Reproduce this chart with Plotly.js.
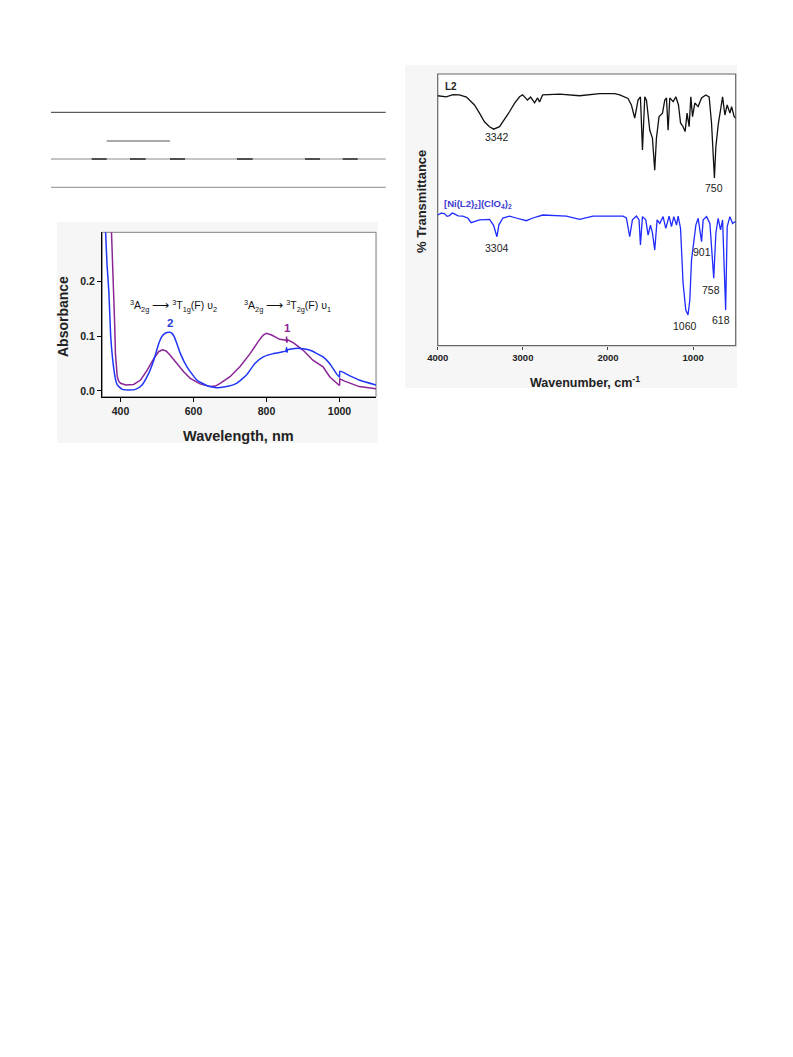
<!DOCTYPE html>
<html>
<head>
<meta charset="utf-8">
<script src="https://cdn.plot.ly/plotly-3.0.1.min.js"></script>
<style>
html,body{margin:0;padding:0;background:#fff;}
#chart{width:793px;height:1057px;}
</style>
</head>
<body>
<div id="chart"></div>
<script>
// ---------- UV-Vis data (wavelength, nm / absorbance) ----------
const uvWavelength1 = [372, 375.5, 378, 381.6, 384, 386, 389, 391, 395, 400, 414, 436, 455, 473, 491, 505, 515, 525, 536, 555, 573, 591, 618, 645, 660, 673, 700, 727, 755, 777, 791, 800, 814, 836, 850, 854, 855, 856, 858, 873, 900, 927, 955, 973, 991, 998, 1000, 1001, 1014, 1054, 1100];
const uvAbs1 = [0.35, 0.29, 0.23, 0.18, 0.12, 0.068, 0.04, 0.026, 0.018, 0.014, 0.011, 0.012, 0.020, 0.038, 0.059, 0.072, 0.075, 0.073, 0.065, 0.050, 0.035, 0.023, 0.013, 0.008, 0.009, 0.014, 0.026, 0.044, 0.068, 0.090, 0.102, 0.105, 0.102, 0.094, 0.093, 0.091, 0.099, 0.088, 0.093, 0.088, 0.0745, 0.056, 0.044, 0.026, 0.014, 0.011, 0.010, 0.022, 0.018, 0.008, 0.004];
const uvWavelength2 = [355, 359, 363, 368, 373, 378, 382, 386, 391, 405, 423, 441, 459, 477, 491, 505, 513, 520, 527, 535, 541, 547, 555, 564, 582, 609, 636, 664, 691, 718, 745, 768, 791, 818, 845, 853, 855, 856, 858, 864, 891, 918, 955, 973, 991, 1000, 1001, 1027, 1054, 1100];
const uvAbs2 = [0.35, 0.29, 0.23, 0.18, 0.10, 0.06, 0.038, 0.022, 0.011, 0.003, 0.002, 0.003, 0.011, 0.032, 0.056, 0.087, 0.099, 0.104, 0.1065, 0.107, 0.105, 0.099, 0.085, 0.068, 0.044, 0.020, 0.010, 0.006, 0.008, 0.014, 0.029, 0.050, 0.062, 0.068, 0.0715, 0.073, 0.079, 0.070, 0.075, 0.076, 0.0776, 0.0745, 0.062, 0.050, 0.032, 0.025, 0.036, 0.028, 0.020, 0.011];
const uvXTicks = [400, 600, 800, 1000];
const uvYTicks = [0.0, 0.1, 0.2];
const uvYTickText = ['0.0', '0.1', '0.2'];

// ---------- IR data (wavenumber, cm-1 / % transmittance, arbitrary offset) ----------
const irWavenumberL2 = [4000, 3900, 3820, 3745, 3662, 3568, 3509, 3451, 3392, 3342, 3274, 3215, 3157, 3098, 3039, 3003, 2945, 2909, 2862, 2827, 2804, 2768, 2568, 2333, 2098, 1921, 1862, 1765, 1725, 1686, 1647, 1619, 1595, 1568, 1548, 1509, 1478, 1451, 1431, 1400, 1360, 1333, 1313, 1294, 1274, 1235, 1203, 1172, 1148, 1118, 1094, 1071, 1047, 1027, 1007, 980, 941, 901, 851, 812, 784, 750, 733, 706, 686, 654, 627, 600, 568, 548, 518, 500];
const irTransL2 = [92.0, 91.6, 92.4, 92.3, 91.5, 88.6, 85.6, 82.4, 80.6, 79.7, 80.6, 83.3, 86.1, 89.2, 91.6, 92.3, 90.4, 91.5, 89.4, 91.2, 89.7, 92.3, 92.6, 92.0, 92.8, 92.8, 92.3, 91.0, 88.6, 83.8, 90.4, 91.6, 72.0, 91.6, 90.4, 79.3, 76.4, 64.6, 76.4, 84.3, 85.6, 90.4, 91.2, 79.3, 91.2, 89.8, 91.6, 88.6, 82.0, 80.6, 78.8, 85.6, 80.6, 91.6, 84.3, 89.3, 88.0, 91.2, 92.3, 91.6, 82.0, 61.7, 73.2, 81.2, 85.6, 91.6, 84.9, 88.6, 85.6, 88.0, 84.3, 83.8];
const irWavenumberNi = [4000, 3960, 3921, 3890, 3862, 3830, 3804, 3760, 3706, 3647, 3607, 3509, 3392, 3345, 3304, 3282, 3235, 3156, 3078, 2960, 2882, 2765, 2489, 2333, 2176, 2019, 1823, 1784, 1745, 1713, 1666, 1635, 1619, 1595, 1556, 1529, 1501, 1478, 1451, 1423, 1392, 1353, 1321, 1282, 1254, 1227, 1195, 1176, 1148, 1118, 1086, 1060, 1039, 1019, 992, 968, 941, 901, 882, 842, 803, 758, 733, 706, 678, 654, 618, 600, 568, 536, 509, 500];
const irTransNi = [48.1, 48.8, 48.6, 47.6, 47.9, 48.8, 48.5, 47.8, 47.7, 47.0, 45.3, 46.3, 46.5, 44.4, 40.1, 44.4, 47.0, 47.7, 47.0, 46.0, 47.0, 48.1, 47.7, 46.5, 47.7, 47.7, 47.7, 47.0, 40.1, 46.3, 47.7, 46.3, 37.1, 47.5, 46.3, 40.7, 44.4, 41.5, 35.2, 46.3, 45.0, 47.5, 43.2, 47.7, 43.8, 47.5, 44.4, 47.7, 43.2, 23.0, 13.1, 11.3, 16.8, 31.5, 37.7, 44.4, 46.9, 38.3, 46.3, 47.5, 45.0, 24.8, 41.4, 46.9, 42.6, 46.3, 13.1, 43.8, 47.5, 45.0, 45.6, 45.5];
const irXTicks = [4000, 3000, 2000, 1000];

// ---------- helpers for pixel placement ----------
const W = 793, H = 1057;
const px = v => v / W;
const py = v => 1 - v / H;

const purple = '#8a2696';
const blueUV = '#1f35f5';
const blueIR = '#1f2bff';
const fontFam = 'Liberation Sans, Arial, sans-serif';

const traces = [
  {x: uvWavelength1, y: uvAbs1, type: 'scatter', mode: 'lines', line: {color: purple, width: 1.5}, xaxis: 'x', yaxis: 'y', hoverinfo: 'skip'},
  {x: uvWavelength2, y: uvAbs2, type: 'scatter', mode: 'lines', line: {color: blueUV, width: 1.5, shape: 'spline', smoothing: 0.5}, xaxis: 'x', yaxis: 'y', hoverinfo: 'skip'},
  {x: irWavenumberL2, y: irTransL2, type: 'scatter', mode: 'lines', line: {color: '#111', width: 1.3}, xaxis: 'x2', yaxis: 'y2', hoverinfo: 'skip'},
  {x: irWavenumberNi, y: irTransNi, type: 'scatter', mode: 'lines', line: {color: blueIR, width: 1.3}, xaxis: 'x2', yaxis: 'y2', hoverinfo: 'skip'}
];

const tableLine = (x0, x1, y, color, w) => ({type: 'line', xref: 'paper', yref: 'paper', x0: px(x0), x1: px(x1), y0: py(y), y1: py(y), line: {color: color, width: w}});
const segs = [[91.7,106.7],[130,145.7],[170,185],[237,252.7],[305,320],[342.7,357.7]];

const shapes = [
  // grey panels
  {type: 'rect', xref: 'paper', yref: 'paper', x0: px(57), x1: px(378), y0: py(443), y1: py(222), fillcolor: '#f6f6f6', line: {width: 0}, layer: 'below'},
  {type: 'rect', xref: 'paper', yref: 'paper', x0: px(405), x1: px(737), y0: py(388), y1: py(65), fillcolor: '#f6f6f6', line: {width: 0}, layer: 'below'},
  // white plot areas
  {type: 'rect', xref: 'paper', yref: 'paper', x0: px(102.3), x1: px(376), y0: py(396.7), y1: py(232.3), fillcolor: '#ffffff', line: {color: '#808080', width: 1}, layer: 'below'},
  {type: 'rect', xref: 'paper', yref: 'paper', x0: px(437.7), x1: px(735.7), y0: py(345.7), y1: py(74), fillcolor: '#ffffff', line: {color: '#666', width: 1.2}, layer: 'below'},
  // table rules
  tableLine(51, 385.7, 112.3, '#333', 1),
  tableLine(106.7, 170, 141, '#555', 1),
  tableLine(51, 385.7, 159, '#8a8a8a', 1),
  tableLine(51, 385.7, 187.3, '#8a8a8a', 1)
];
segs.forEach(s => shapes.push(tableLine(s[0], s[1], 159, '#333', 1.6)));

const ann = (x, y, text, opts) => Object.assign({xref: 'paper', yref: 'paper', x: px(x), y: py(y), text: text, showarrow: false, xanchor: 'center', yanchor: 'middle', font: {family: fontFam, size: 10, color: '#222'}}, opts || {});

const annotations = [
  ann(173, 306, '<sup>3</sup>A<sub>2g</sub> <span style="font-size:12px">⟶</span> <sup>3</sup>T<sub>1g</sub>(F) υ<sub>2</sub>', {font: {family: fontFam, size: 10.5, color: '#111'}}),
  ann(287, 306, '<sup>3</sup>A<sub>2g</sub> <span style="font-size:12px">⟶</span> <sup>3</sup>T<sub>2g</sub>(F) υ<sub>1</sub>', {font: {family: fontFam, size: 10.5, color: '#111'}}),
  ann(170, 323.5, '<b>2</b>', {font: {family: fontFam, size: 11.5, color: '#2a3ad0'}}),
  ann(287, 328, '<b>1</b>', {font: {family: fontFam, size: 11.5, color: '#8a2696'}}),
  ann(63.5, 316.5, '<b>Absorbance</b>', {textangle: -90, font: {family: fontFam, size: 14, color: '#222'}}),
  ann(238, 436, '<b>Wavelength, nm</b>', {font: {family: fontFam, size: 14.5, color: '#222'}}),
  // IR labels
  ann(443, 86, '<b>L2</b>', {xanchor: 'left', font: {family: fontFam, size: 10, color: '#222'}}),
  ann(496.5, 137.5, '3342', {font: {family: fontFam, size: 10.5, color: '#222'}}),
  ann(714, 187.5, '750', {font: {family: fontFam, size: 10.5, color: '#222'}}),
  ann(441.5, 204, '<b>[Ni(L2)<sub>2</sub>](ClO<sub>4</sub>)<sub>2</sub></b>', {xanchor: 'left', font: {family: fontFam, size: 9.5, color: '#3b3bd0'}}),
  ann(496.5, 247.5, '3304', {font: {family: fontFam, size: 10.5, color: '#222'}}),
  ann(701.5, 251.5, '901', {font: {family: fontFam, size: 10.5, color: '#222'}}),
  ann(710.5, 290, '758', {font: {family: fontFam, size: 10.5, color: '#222'}}),
  ann(685, 326, '1060', {font: {family: fontFam, size: 10.5, color: '#222'}}),
  ann(721, 319.5, '618', {font: {family: fontFam, size: 10.5, color: '#222'}}),
  ann(421, 202, '<b>% Transmittance</b>', {textangle: -90, font: {family: fontFam, size: 13, color: '#222'}}),
  ann(585, 382.5, '<b>Wavenumber, cm<sup>-1</sup></b>', {font: {family: fontFam, size: 12.5, color: '#222'}})
];

const layout = {
  width: W, height: H,
  margin: {l: 0, r: 0, t: 0, b: 0},
  paper_bgcolor: '#ffffff',
  plot_bgcolor: 'rgba(0,0,0,0)',
  showlegend: false,
  xaxis: {
    domain: [px(102.3), px(376)], anchor: 'y',
    range: [350, 1100], tickvals: uvXTicks, ticktext: uvXTicks.map(String),
    ticks: 'outside', ticklen: 4, tickwidth: 1, tickcolor: '#000',
    showline: true, linecolor: '#000', linewidth: 1.3, showgrid: false, zeroline: false,
    tickfont: {family: fontFam, size: 10.5, color: '#222', weight: 'bold'}
  },
  yaxis: {
    domain: [py(396.7), py(232.3)], anchor: 'x',
    range: [-0.0104, 0.289], tickvals: uvYTicks, ticktext: uvYTickText,
    ticks: 'outside', ticklen: 4, tickwidth: 1, tickcolor: '#000',
    showline: true, linecolor: '#000', linewidth: 1.3, showgrid: false, zeroline: false,
    tickfont: {family: fontFam, size: 10.5, color: '#222', weight: 'bold'}
  },
  xaxis2: {
    domain: [px(437.7), px(735.7)], anchor: 'y2',
    range: [4000, 500], tickvals: irXTicks, ticktext: irXTicks.map(String),
    ticks: 'outside', ticklen: 3, tickwidth: 1, tickcolor: '#444',
    showline: false, showgrid: false, zeroline: false,
    tickfont: {family: fontFam, size: 9.5, color: '#222', weight: 'bold'}
  },
  yaxis2: {
    domain: [py(345.7), py(74)], anchor: 'x2',
    range: [0, 100], showticklabels: false, ticks: '',
    showline: false, showgrid: false, zeroline: false
  },
  shapes: shapes,
  annotations: annotations
};

Plotly.newPlot('chart', traces, layout, {staticPlot: true, displayModeBar: false});
</script>
</body>
</html>
